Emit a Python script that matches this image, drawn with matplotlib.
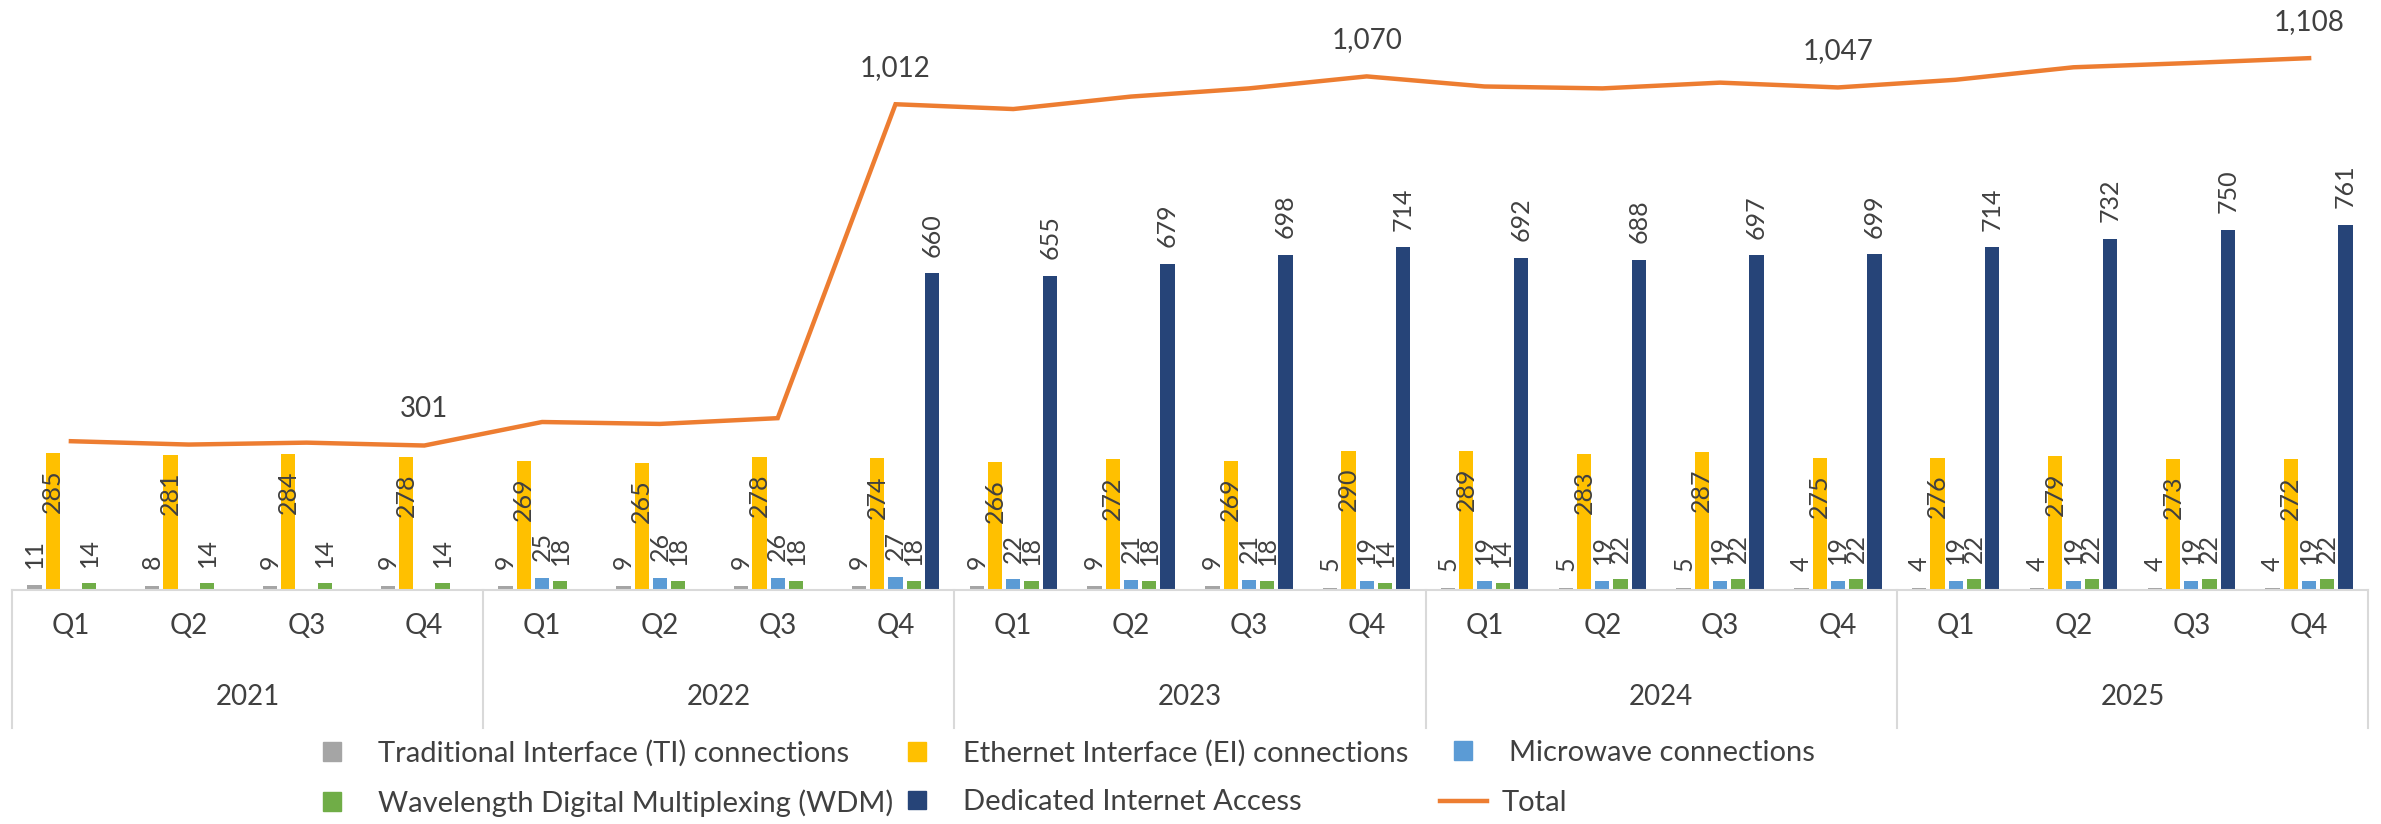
import numpy as np
import matplotlib
matplotlib.use('Agg')
import matplotlib.pyplot as plt
from matplotlib.patches import Patch
from matplotlib.lines import Line2D

# ---- data ----
years = ['2021', '2022', '2023', '2024', '2025']
quarters = ['Q1', 'Q2', 'Q3', 'Q4']

ti = [11, 8, 9, 9, 9, 9, 9, 9, 9, 9, 9, 5, 5, 5, 5, 4, 4, 4, 4, 4]
ei = [285, 281, 284, 278, 269, 265, 278, 274, 266, 272, 269, 290,
      289, 283, 287, 275, 276, 279, 273, 272]
microwave = [0, 0, 0, 0, 25, 26, 26, 27, 22, 21, 21, 19,
             19, 19, 19, 19, 19, 19, 19, 19]
wdm = [14, 14, 14, 14, 18, 18, 18, 18, 18, 18, 18, 14,
       14, 22, 22, 22, 22, 22, 22, 22]
dia = [0, 0, 0, 0, 0, 0, 0, 660, 655, 679, 698, 714,
       692, 688, 697, 699, 714, 732, 750, 761]
total = [310, 303, 307, 301, 350, 346, 358, 1012, 1002, 1028, 1045, 1070,
         1049, 1045, 1057, 1047, 1063, 1089, 1098, 1108]

series_names = ['Traditional Interface (TI) connections',
                'Ethernet Interface (EI) connections',
                'Microwave connections',
                'Wavelength Digital Multiplexing (WDM)',
                'Dedicated Internet Access']
total_name = 'Total'

COLORS = ['#A5A5A5', '#FFC000', '#5B9BD5', '#70AD47', '#264478']
TOTAL_COLOR = '#ED7D31'
TEXT = '#404040'
AXIS = '#D9D9D9'
FONT = ['Lato', 'DejaVu Sans']

W, H = 2381, 824
BASE_PX, TOP_PX = 590, 10          # baseline / top of plot area (pixels from top)
PX_PER_UNIT = 0.48

plt.rcParams['font.family'] = FONT
fig = plt.figure(figsize=(W / 100, H / 100), dpi=100)
ax = fig.add_axes([12 / W, 1 - BASE_PX / H, (2368 - 12) / W, (BASE_PX - TOP_PX) / H])
ax.set_xlim(-0.5, 19.5)
ax.set_ylim(0, (BASE_PX - TOP_PX) / PX_PER_UNIT)

x = np.arange(len(ti))
step, width = 0.155, 0.121
bar_series = [ti, ei, microwave, wdm, dia]
for k, vals in enumerate(bar_series):
    xs = x + (k - 2) * step
    vals = np.array(vals, dtype=float)
    mask = vals > 0
    ax.bar(xs[mask], vals[mask], width=width, color=COLORS[k], zorder=2)
    for xi, v in zip(xs[mask], vals[mask]):
        if k == 1:  # EI labels sit inside the bar end
            ax.annotate(f'{int(v)}', (xi, v), xytext=(0, -12), textcoords='offset points',
                        rotation=90, ha='center', va='top', fontsize=18, color=TEXT)
        else:
            ax.annotate(f'{int(v)}', (xi, v), xytext=(0, 12), textcoords='offset points',
                        rotation=90, ha='center', va='bottom', fontsize=18, color=TEXT)

ax.plot(x, total, color=TOTAL_COLOR, lw=3.2, solid_joinstyle='miter', zorder=3)
for i in range(3, len(total), 4):
    ax.annotate(f'{total[i]:,}', (x[i], total[i]), xytext=(0, 26), textcoords='offset points',
                ha='center', va='center', fontsize=20, color=TEXT)

# ---- multi-level category axis ----
for s in ['top', 'left', 'right']:
    ax.spines[s].set_visible(False)
ax.spines['bottom'].set_color(AXIS)
ax.spines['bottom'].set_linewidth(1.5)
ax.set_yticks([])
ax.set_xticks([])

axis_h = BASE_PX - TOP_PX
trans = ax.get_xaxis_transform()
q_y = -(626 - BASE_PX) / axis_h
yr_y = -(697 - BASE_PX) / axis_h
sep_y = -(728 - BASE_PX) / axis_h
for i in x:
    ax.text(i, q_y, quarters[i % 4], transform=trans, ha='center', va='center',
            fontsize=20, color=TEXT)
for j, yr in enumerate(years):
    ax.text(4 * j + 1.5, yr_y, yr, transform=trans, ha='center', va='center',
            fontsize=20, color=TEXT)
for b in np.arange(-0.5, 20, 4):
    ax.plot([b, b], [0, sep_y], transform=trans, color=AXIS, lw=1.5, clip_on=False)

# ---- legend: one small legend per column so columns line up like the original ----
patches = [Patch(color=c, label=n) for c, n in zip(COLORS, series_names)]
total_handle = Line2D([0], [0], color=TOTAL_COLOR, lw=3.2, label=total_name)
leg_kw = dict(loc='upper left', frameon=False, fontsize=21, borderpad=0, borderaxespad=0,
              labelspacing=0.76, labelcolor=TEXT)
sq_kw = dict(handlelength=0.6, handleheight=0.6, handletextpad=1.3)
leg_top = 1 - 740 / H
columns = [(323, [patches[0], patches[3]]), (908, [patches[1], patches[4]])]
for left, hs in columns:
    fig.legend(handles=hs, bbox_to_anchor=(left / W, leg_top), **sq_kw, **leg_kw)
fig.legend(handles=[patches[2]], bbox_to_anchor=(1454 / W, leg_top), **sq_kw, **leg_kw)
fig.legend(handles=[total_handle], bbox_to_anchor=(1440 / W, leg_top - 50 / H),
           handlelength=1.6, handletextpad=0.5, **leg_kw)

fig.savefig('out.png', dpi=100)
